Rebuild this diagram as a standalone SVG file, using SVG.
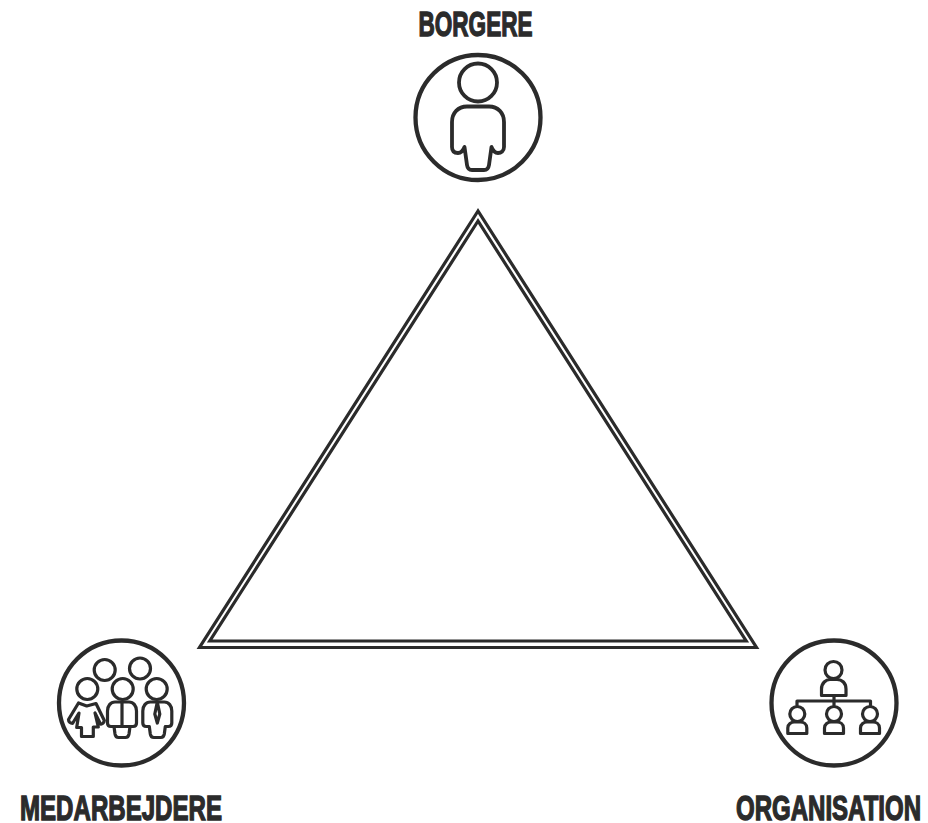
<svg xmlns="http://www.w3.org/2000/svg" width="928" height="823" viewBox="0 0 928 823">
<style>
.s{fill:none;stroke:#2b2b2b;stroke-linejoin:round;stroke-linecap:round}
.t{fill:none;stroke:#2b2b2b;stroke-width:3.200;stroke-linejoin:miter;stroke-miterlimit:20}
.c{stroke-width:4.300}
.i{stroke-width:3.200}
.l{font-family:"Liberation Sans",Arial,sans-serif;font-weight:700;font-size:35px;fill:#2b2b2b;stroke:#2b2b2b;stroke-width:1.400}
</style>
<defs>
<path id="b" d="M-7,0 H7 C11.500,0 14.500,4 14.500,9 V21 C14.500,23.500 13,24.500 11,24.500 H8 L7,32 C6.600,34.500 5.500,35.500 3.500,35.500 H-3.500 C-5.500,35.500 -6.600,34.500 -7,32 L-8,24.500 H-11 C-13,24.500 -14.500,23.500 -14.500,21 V9 C-14.500,4 -11.500,0 -7,0 Z"/>
<g id="p"><circle cx="0" cy="-9" r="7.500"/><path d="M-9.500,10.500 V5 C-9.500,1 -6,-1 -3,-1 H3 C6,-1 9.500,1 9.500,5 V10.500 Z"/></g>
</defs>
<g id="triangle">
<polygon class="t" points="478,211 199.500,647.500 756.500,647.500"/>
<polygon class="t" points="478,221 209.800,641 746.200,641"/>
</g>
<g id="borgere">
<text class="l" x="475.500" y="35.500" text-anchor="middle" textLength="114" lengthAdjust="spacingAndGlyphs">BORGERE</text>
<circle class="s c" cx="478" cy="117.500" r="62.500"/>
<circle class="s" stroke-width="3.800" cx="478" cy="82.500" r="19"/>
<path class="s" stroke-width="3.800" d="M467,106.500 H489 C498,106.500 504,113 504,122 V147 C504,151 501,153 498,153 C495,153 493,151 491.500,147 L489,165 C488.500,168.500 487,170 484,170 H472 C469,170 467.500,168.500 467,165 L464.500,147 C463,151 461,153 458,153 C454,153 452,151 452,147 V122 C452,113 458,106.500 467,106.500 Z"/>
</g>
<g id="medarbejdere">
<text class="l" x="121" y="820" text-anchor="middle" textLength="202" lengthAdjust="spacingAndGlyphs">MEDARBEJDERE</text>
<circle class="s c" cx="121.500" cy="703" r="62.500"/>
<g class="s i">
<circle cx="104.700" cy="670" r="10.500"/>
<circle cx="140" cy="668.500" r="10.500"/>
<circle cx="87.300" cy="689" r="10.500"/>
<circle cx="122.700" cy="689" r="10.500"/>
<circle cx="156.700" cy="689" r="10.500"/>
<use href="#b" transform="translate(122,702)"/>
<path d="M122,702 V726 M114,726.500 H130"/>
<use href="#b" transform="translate(157.300,702)"/>
<path d="M157.300,702 L154.800,714 L157.300,723 L159.800,714 Z"/>
<path d="M78.500,703 L86.700,706 L96,703.500 L104.300,720.500 C104,723 102,724.500 100.500,724 L95,713 L98.300,727 H93.300 V736.500 H81.500 V727.500 H76.700 L79,713 L72.500,723.500 C70.500,723.500 68.500,722 68.500,719.500 Z"/>
</g>
</g>
<g id="organisation">
<text class="l" x="828.500" y="820" text-anchor="middle" textLength="185" lengthAdjust="spacingAndGlyphs">ORGANISATION</text>
<circle class="s c" cx="834" cy="703" r="62.500"/>
<g class="s i">
<circle cx="833.500" cy="670" r="8.500"/>
<path d="M821.500,695.500 V689 C821.500,683 826,679.500 830,679.500 H837 C842,679.500 846,683 846,689 V695.500 Z"/>
<path d="M797,705 V701 H870.500 V705 M834,696 V705"/>
<use href="#p" transform="translate(797.300,723)"/>
<use href="#p" transform="translate(834,723)"/>
<use href="#p" transform="translate(870,723)"/>
</g>
</g>
</svg>
